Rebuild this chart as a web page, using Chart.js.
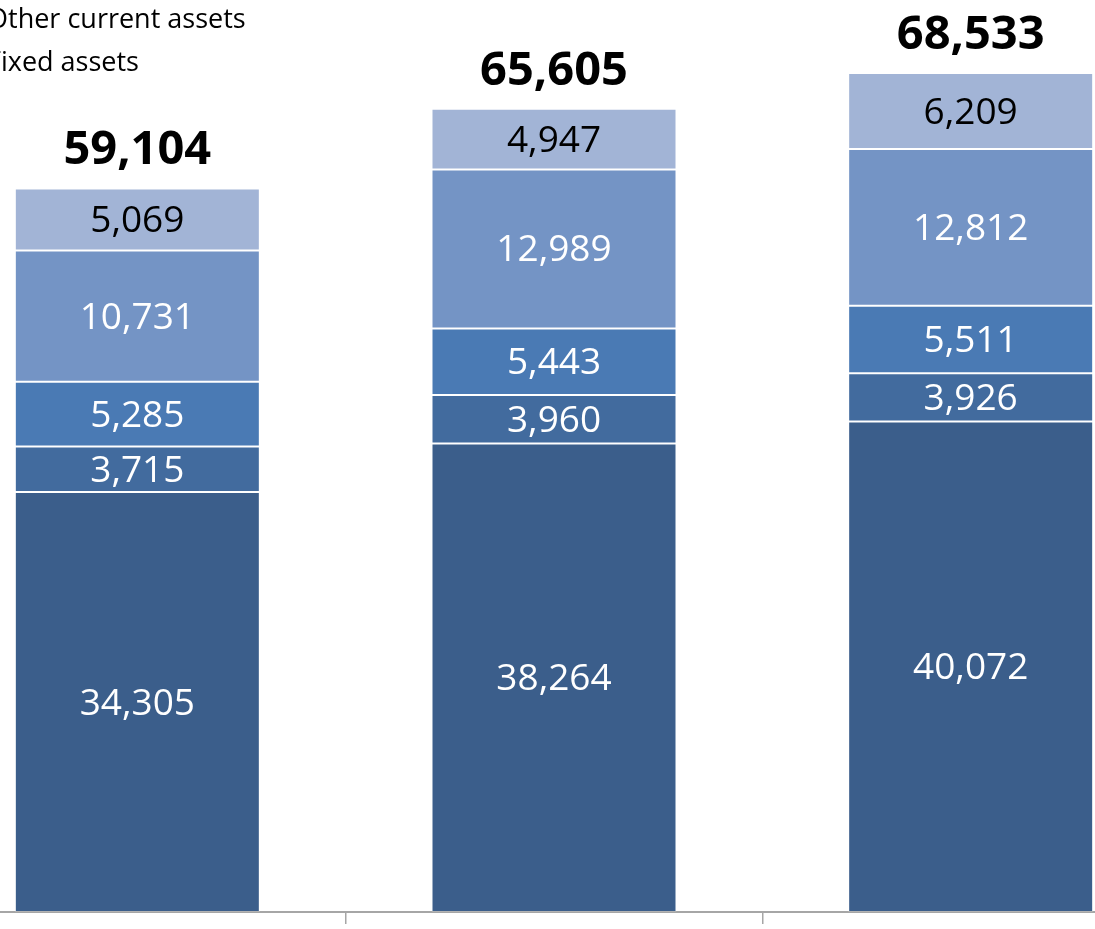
<!DOCTYPE html>
<html>
<head>
<meta charset="utf-8">
<title>Assets</title>
<script src="https://cdn.jsdelivr.net/npm/chart.js@4/dist/chart.umd.min.js"></script>
<style>
    body { margin: 0; background: #fff; }
    #frame { position: relative; width: 1095px; height: 929px; overflow: hidden; }
    #holder { position: absolute; left: -71px; top: 0; width: 1250px; height: 929px; }
</style>
</head>
<body>
<div id="frame">
    <div id="holder">
        <canvas id="assetsChart" width="1250" height="929"></canvas>
    </div>
</div>
<script>
// Years on the x axis
const years = ['2019', '2020', '2021'];

// Series, bottom of the stack first
const fixedAssets = [34305, 38264, 40072];
const otherCurrentAssets = [3715, 3960, 3926];
const inventories = [5285, 5443, 5511];
const receivables = [10731, 12989, 12812];
const cash = [5069, 4947, 6209];

// Totals printed above each column
const totals = [59104, 65605, 68533];

// Only the last two legend entries show in the corner
const legendNames = ['Other current assets', 'Fixed assets'];

const colors = ['#3b5e8b', '#426b9e', '#4a7ab4', '#7494c5', '#a2b4d6'];
const labelColors = ['#fff', '#fff', '#fff', '#fff', '#000'];

function fmt(n) {
    return n.toLocaleString('en-US');
}

function makeSet(label, values, i) {
    return {
        label: label,
        data: values,
        backgroundColor: colors[i],
        borderColor: 'rgba(255,255,255,0.15)',
        borderWidth: 1,
        borderSkipped: false,
        categoryPercentage: 1,
        barPercentage: 0.588
    };
}

// Writes the segment values and the column totals
const valueLabels = {
    id: 'valueLabels',
    afterDatasetsDraw(chart) {
        const ctx = chart.ctx;
        ctx.save();
        ctx.textAlign = 'center';
        ctx.textBaseline = 'middle';
        ctx.font = '37px "Open Sans"';
        chart.data.datasets.forEach(function (ds, i) {
            chart.getDatasetMeta(i).data.forEach(function (bar, j) {
                ctx.fillStyle = labelColors[i];
                ctx.fillText(fmt(ds.data[j]), bar.x, (bar.y + bar.base) / 2 + 2);
            });
        });

        // totals sit on top of the last dataset
        const last = chart.getDatasetMeta(chart.data.datasets.length - 1).data;
        ctx.font = 'bold 47px "Open Sans"';
        ctx.fillStyle = '#000';
        ctx.textBaseline = 'alphabetic';
        last.forEach(function (bar, j) {
            ctx.fillText(fmt(totals[j]), bar.x, bar.y - 24);
        });
        ctx.restore();
    }
};

// Small legend drawn in the top left corner
const cornerLegend = {
    id: 'cornerLegend',
    afterDraw(chart) {
        const ctx = chart.ctx;
        ctx.save();
        ctx.font = '27px "Open Sans"';
        ctx.textBaseline = 'middle';
        ctx.textAlign = 'left';
        legendNames.forEach(function (name, i) {
            const y = 20 + i * 43;
            ctx.fillStyle = colors[1 - i];
            ctx.fillRect(33, y - 8, 16, 16);
            ctx.fillStyle = '#000';
            ctx.fillText(name, 58, y);
        });
        ctx.restore();
    }
};

var ctx = document.getElementById('assetsChart').getContext('2d');
var assetsChart = new Chart(ctx, {
    type: 'bar',
    data: {
        labels: years,
        datasets: [
            makeSet('Fixed assets', fixedAssets, 0),
            makeSet('Other current assets', otherCurrentAssets, 1),
            makeSet('Inventories', inventories, 2),
            makeSet('Receivables', receivables, 3),
            makeSet('Cash', cash, 4)
        ]
    },
    options: {
        responsive: false,
        animation: false,
        layout: { padding: { top: 55, bottom: 5, left: 0, right: 0 } },
        plugins: {
            legend: { display: false },
            tooltip: { enabled: false }
        },
        scales: {
            x: {
                stacked: true,
                ticks: { display: false },
                grid: {
                    offset: true,
                    drawOnChartArea: false,
                    drawTicks: true,
                    tickLength: 12,
                    color: '#a6a6a6',
                    lineWidth: 1.5
                },
                border: { display: true, color: '#a6a6a6', width: 2 }
            },
            y: {
                stacked: true,
                display: false,
                min: 0,
                max: 70000
            }
        }
    },
    plugins: [valueLabels, cornerLegend]
});
</script>
</body>
</html>
